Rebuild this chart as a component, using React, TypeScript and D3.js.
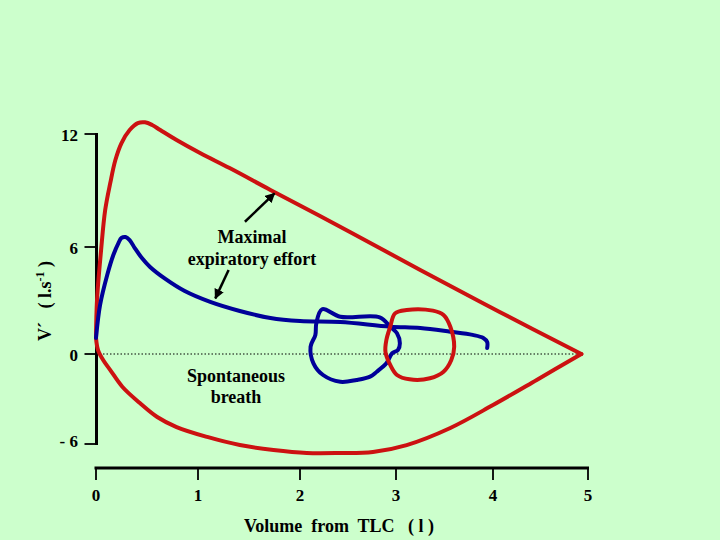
import React from "react";
import * as d3 from "d3";

// ---- data (volume from TLC in litres, flow in l/s) ----
const xTicks = [0, 1, 2, 3, 4, 5];
const yTicks = [12, 6, 0, -6];
const yTickLabels = ["12", "6", "0", "- 6"];

// maximal expiratory effort: upper (expiratory) branch
const maxUpperVol = [0, 0.01, 0.05, 0.09, 0.14, 0.19, 0.25, 0.33, 0.41, 0.48, 0.55, 0.63, 0.79, 1.02, 1.31, 1.71, 2.52, 3.25, 4.07, 4.93];
const maxUpperFlow = [0.9, 3.03, 5.83, 7.96, 9.4, 10.62, 11.52, 12.21, 12.58, 12.62, 12.48, 12.21, 11.68, 10.99, 10.19, 9.03, 6.8, 4.71, 2.36, 0];
// maximal effort: lower (inspiratory) branch
const maxLowerVol = [4.93, 4.46, 4.0, 3.56, 3.11, 2.76, 2.42, 2.07, 1.74, 1.41, 1.09, 0.79, 0.6, 0.43, 0.26, 0.14, 0.07, 0.02, 0];
const maxLowerFlow = [0, -1.73, -3.4, -4.93, -6.07, -6.53, -6.6, -6.6, -6.4, -6.07, -5.53, -4.87, -4.2, -3.27, -2.2, -1.07, -0.4, 0.22, 0.9];

// submaximal (blue) expiratory curve
const subVol = [0, 0.04, 0.11, 0.17, 0.22, 0.25, 0.29, 0.33, 0.38, 0.45, 0.53, 0.68, 0.87, 1.12, 1.41, 1.71, 2.0, 2.42, 2.94, 3.25, 3.56, 3.79, 3.9, 3.94, 3.94];
const subFlow = [0.9, 2.75, 4.43, 5.55, 6.21, 6.48, 6.53, 6.37, 5.94, 5.38, 4.88, 4.21, 3.53, 2.92, 2.41, 2.02, 1.85, 1.79, 1.53, 1.46, 1.25, 1.07, 0.9, 0.67, 0.34];

// spontaneous breath loops
const blueLoopVol = [2.23, 2.42, 2.83, 2.94, 3.01, 3.04, 3.02, 2.96, 2.9, 2.8, 2.73, 2.59, 2.42, 2.24, 2.14, 2.11, 2.16, 2.17];
const blueLoopFlow = [2.51, 2.09, 2.06, 1.53, 1.16, 0.6, 0.22, 0.04, -0.62, -1.18, -1.51, -1.73, -1.85, -1.4, -0.62, 0.41, 1.07, 1.72];
const redLoopVol = [2.99, 3.11, 3.38, 3.49, 3.56, 3.6, 3.57, 3.49, 3.35, 3.14, 3.01, 2.94, 2.89, 2.9, 2.94];
const redLoopFlow = [2.28, 2.47, 2.43, 2.19, 1.53, 0.41, -0.4, -1.18, -1.62, -1.69, -1.4, -0.73, 0.13, 0.79, 1.53];

// annotation arrows [fromVol, fromFlow, toVol, toFlow]
const arrowMax = [1.46, 7.34, 1.75, 8.85];
const arrowSub = [1.3, 4.71, 1.17, 3.12];

const zip = (a: number[], b: number[]) => a.map((v, i) => [v, b[i]] as [number, number]);

export default function App() {
  const x = d3.scaleLinear().domain([0, 1, 2, 3, 4, 5]).range([96, 198, 300, 396, 493, 588]);
  const y = d3.scaleLinear().domain([-6, 0, 6, 12]).range([444, 354, 247, 134]);
  const xAxisY = 468;
  const axisX = 96.5;

  const open = d3.line<[number, number]>().x(d => x(d[0])).y(d => y(d[1])).curve(d3.curveCatmullRom.alpha(0.5));
  const closed = d3.line<[number, number]>().x(d => x(d[0])).y(d => y(d[1])).curve(d3.curveCatmullRomClosed.alpha(0.5));

  const red = "#cc1111";
  const blue = "#000099";
  const font = "'Liberation Serif', 'Times New Roman', serif";

  const arrow = (a: number[], key: string) => (
    <line key={key} x1={x(a[0])} y1={y(a[1])} x2={x(a[2])} y2={y(a[3])} stroke="#000" strokeWidth={2.5} markerEnd="url(#ah)" />
  );

  return (
    <svg width={720} height={540} style={{ position: "fixed", left: 0, top: 0 }} fontFamily={font}>
      <defs>
        <marker id="ah" viewBox="0 0 10 10" refX="9" refY="5" markerWidth="4" markerHeight="4" orient="auto" markerUnits="strokeWidth">
          <path d="M0,0 L10,5 L0,10 z" fill="#000" />
        </marker>
      </defs>
      <rect width={720} height={540} fill="#ccffcc" />

      {/* zero line */}
      <line x1={x(0)} x2={x(4.93)} y1={y(0)} y2={y(0)} stroke="#000" strokeWidth={1} strokeDasharray="1.5,2" />

      {/* y axis */}
      <line x1={axisX} x2={axisX} y1={y(12) - 1} y2={y(-6) + 1} stroke="#000" strokeWidth={3} />
      {yTicks.map((t, i) => (
        <g key={t}>
          <line x1={axisX - 12} x2={axisX} y1={y(t)} y2={y(t)} stroke="#000" strokeWidth={1.8} />
          <text x={78} y={t === -6 ? y(t) + 3 : y(t) + 7} textAnchor="end" fontSize={17} fontWeight="bold" style={{ whiteSpace: "pre" }}>{yTickLabels[i]}</text>
        </g>
      ))}
      <text transform={`translate(51,301) rotate(-90)`} textAnchor="middle" fontSize={18} fontWeight="bold" style={{ whiteSpace: "pre" }}>
        V´   ( l.s<tspan fontSize={12} dy={-7}>-1</tspan><tspan dy={7}> )</tspan>
      </text>

      {/* x axis */}
      <line x1={x(0) - 1.5} x2={x(5) + 1} y1={xAxisY} y2={xAxisY} stroke="#000" strokeWidth={3} />
      {xTicks.map(t => (
        <g key={t}>
          <line x1={x(t)} x2={x(t)} y1={xAxisY} y2={xAxisY + 12} stroke="#000" strokeWidth={1.8} />
          <text x={x(t)} y={501} textAnchor="middle" fontSize={17} fontWeight="bold">{t}</text>
        </g>
      ))}
      <text x={339} y={532} textAnchor="middle" fontSize={18} fontWeight="bold" style={{ whiteSpace: "pre" }}>Volume  from  TLC   ( l )</text>

      {/* curves */}
      <path d={open(zip(maxUpperVol, maxUpperFlow)) || ""} fill="none" stroke={red} strokeWidth={4} strokeLinejoin="round" strokeLinecap="round" />
      <path d={open(zip(maxLowerVol, maxLowerFlow)) || ""} fill="none" stroke={red} strokeWidth={4} strokeLinejoin="round" strokeLinecap="round" />
      <path d={open(zip(subVol, subFlow)) || ""} fill="none" stroke={blue} strokeWidth={4} strokeLinejoin="round" strokeLinecap="round" />
      <path d={closed(zip(blueLoopVol, blueLoopFlow)) || ""} fill="none" stroke={blue} strokeWidth={4} strokeLinejoin="round" />
      <path d={closed(zip(redLoopVol, redLoopFlow)) || ""} fill="none" stroke={red} strokeWidth={4} strokeLinejoin="round" />

      {/* annotations */}
      {arrow(arrowMax, "a1")}
      {arrow(arrowSub, "a2")}
      <text x={252} y={243} textAnchor="middle" fontSize={18} fontWeight="bold">Maximal</text>
      <text x={252} y={265} textAnchor="middle" fontSize={18} fontWeight="bold">expiratory effort</text>
      <text x={236} y={382} textAnchor="middle" fontSize={18} fontWeight="bold">Spontaneous</text>
      <text x={236} y={403} textAnchor="middle" fontSize={18} fontWeight="bold">breath</text>
    </svg>
  );
}
